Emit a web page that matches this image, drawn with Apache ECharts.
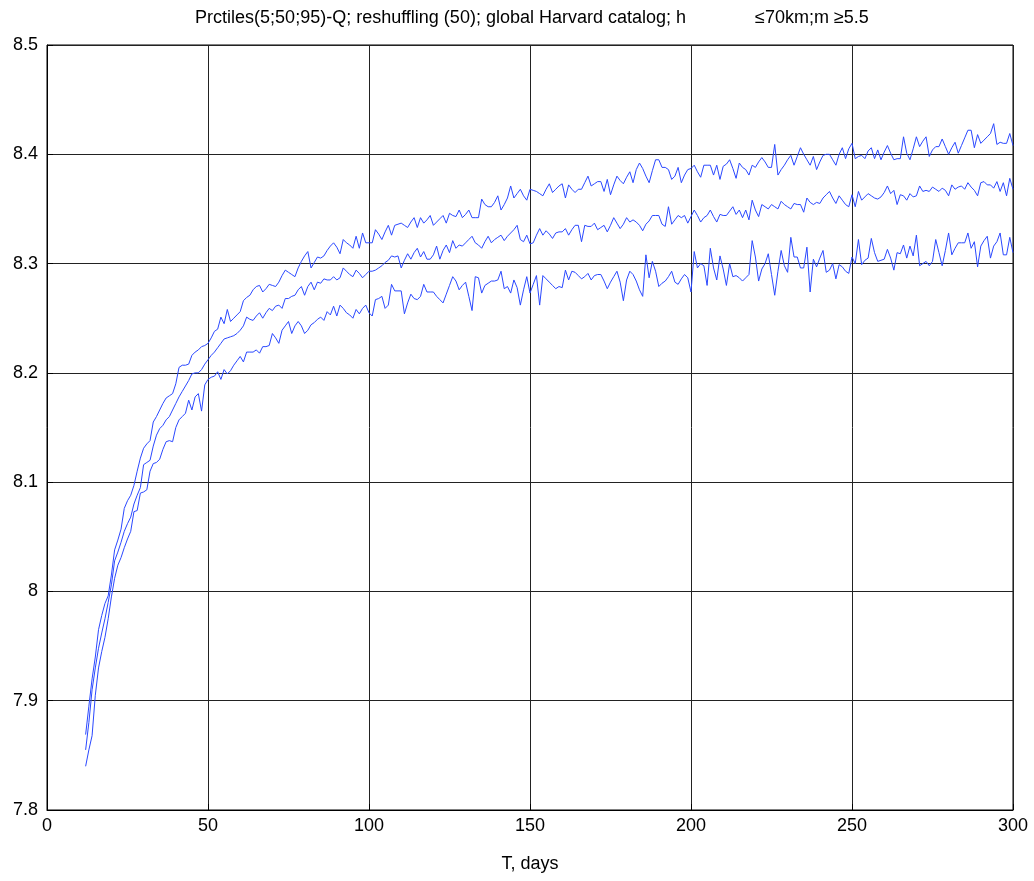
<!DOCTYPE html>
<html>
<head>
<meta charset="utf-8">
<script src="https://cdn.jsdelivr.net/npm/echarts@6/dist/echarts.min.js"></script>
<style>html,body{margin:0;padding:0;background:#fff}#c{width:1034px;height:881px}</style>
</head>
<body>
<div id="c"></div>
<script>
const titleLeft = "Prctiles(5;50;95)-Q; reshuffling (50); global Harvard catalog; h";
const titleRight = "\u226470km;m \u22655.5";
const xName = "T, days";
const startDay = 12;
const xTicks = [0, 50, 100, 150, 200, 250, 300];
const yTicks = [7.8, 7.9, 8.0, 8.1, 8.2, 8.3, 8.4, 8.5];

// 95th percentile, days 12..300
const p95 = [
7.869,7.895,7.920,7.940,7.965,7.978,7.989,7.996,8.015,8.038,
8.047,8.057,8.076,8.083,8.088,8.097,8.110,8.122,8.131,8.135,
8.138,8.155,8.160,8.166,8.172,8.177,8.179,8.181,8.190,8.205,
8.207,8.207,8.208,8.216,8.219,8.221,8.224,8.225,8.227,8.232,
8.238,8.240,8.251,8.245,8.258,8.247,8.250,8.253,8.256,8.266,
8.269,8.271,8.276,8.279,8.280,8.274,8.277,8.281,8.280,8.279,
8.283,8.289,8.294,8.292,8.290,8.288,8.296,8.302,8.307,8.311,
8.296,8.301,8.306,8.305,8.307,8.312,8.316,8.319,8.315,8.309,
8.322,8.319,8.317,8.314,8.325,8.314,8.328,8.319,8.319,8.319,
8.331,8.327,8.322,8.329,8.335,8.326,8.335,8.336,8.337,8.335,
8.333,8.338,8.342,8.333,8.342,8.337,8.340,8.344,8.335,8.338,
8.341,8.344,8.337,8.346,8.344,8.343,8.349,8.342,8.345,8.349,
8.342,8.342,8.342,8.359,8.354,8.352,8.352,8.356,8.362,8.349,
8.354,8.360,8.371,8.360,8.364,8.368,8.362,8.358,8.368,8.367,
8.366,8.364,8.362,8.368,8.373,8.365,8.368,8.371,8.373,8.360,
8.372,8.368,8.365,8.368,8.368,8.374,8.380,8.371,8.373,8.375,
8.375,8.366,8.377,8.363,8.372,8.380,8.376,8.373,8.379,8.384,
8.374,8.386,8.392,8.387,8.380,8.374,8.385,8.395,8.395,8.388,
8.388,8.386,8.377,8.380,8.388,8.374,8.381,8.386,8.387,8.390,
8.384,8.379,8.390,8.390,8.390,8.381,8.390,8.377,8.389,8.391,
8.395,8.387,8.378,8.392,8.388,8.386,8.381,8.390,8.388,8.393,
8.397,8.393,8.388,8.388,8.409,8.381,8.386,8.390,8.395,8.399,
8.390,8.398,8.406,8.400,8.395,8.390,8.398,8.386,8.393,8.399,
8.400,8.400,8.395,8.390,8.400,8.406,8.396,8.405,8.410,8.396,
8.398,8.399,8.396,8.403,8.406,8.396,8.404,8.395,8.402,8.408,
8.401,8.395,8.396,8.396,8.416,8.401,8.395,8.405,8.416,8.407,
8.412,8.416,8.398,8.404,8.407,8.407,8.414,8.407,8.400,8.406,
8.411,8.401,8.408,8.415,8.422,8.422,8.406,8.418,8.410,8.413,
8.416,8.419,8.428,8.409,8.411,8.410,8.410,8.419,8.408
];

// 50th percentile, days 12..300
const p50 = [
7.855,7.880,7.910,7.930,7.948,7.962,7.975,7.990,8.006,8.028,
8.036,8.045,8.055,8.062,8.068,8.080,8.088,8.095,8.116,8.118,
8.120,8.133,8.143,8.149,8.152,8.157,8.160,8.166,8.172,8.178,
8.183,8.188,8.193,8.199,8.200,8.200,8.203,8.208,8.212,8.216,
8.219,8.223,8.227,8.231,8.232,8.233,8.234,8.236,8.239,8.243,
8.251,8.249,8.248,8.252,8.255,8.250,8.255,8.259,8.257,8.261,
8.262,8.259,8.268,8.268,8.270,8.271,8.276,8.279,8.271,8.279,
8.283,8.276,8.283,8.282,8.286,8.285,8.285,8.288,8.285,8.287,
8.296,8.293,8.290,8.288,8.294,8.291,8.287,8.290,8.293,8.293,
8.294,8.296,8.298,8.301,8.303,8.307,8.306,8.307,8.296,8.303,
8.309,8.304,8.310,8.314,8.306,8.311,8.304,8.304,8.308,8.316,
8.304,8.312,8.317,8.310,8.321,8.314,8.317,8.316,8.319,8.322,
8.325,8.319,8.317,8.314,8.320,8.325,8.319,8.322,8.324,8.326,
8.321,8.325,8.328,8.331,8.335,8.322,8.320,8.326,8.318,8.319,
8.326,8.332,8.326,8.330,8.327,8.323,8.328,8.329,8.329,8.332,
8.326,8.331,8.335,8.335,8.320,8.335,8.334,8.334,8.337,8.331,
8.333,8.335,8.329,8.335,8.342,8.337,8.332,8.336,8.342,8.338,
8.340,8.338,8.335,8.330,8.336,8.339,8.344,8.344,8.344,8.336,
8.334,8.352,8.336,8.340,8.344,8.342,8.344,8.337,8.343,8.349,
8.344,8.338,8.342,8.344,8.349,8.343,8.338,8.345,8.344,8.344,
8.348,8.352,8.345,8.349,8.342,8.349,8.340,8.358,8.349,8.343,
8.354,8.352,8.350,8.354,8.352,8.350,8.357,8.354,8.352,8.350,
8.355,8.354,8.354,8.347,8.360,8.356,8.354,8.356,8.355,8.360,
8.363,8.366,8.360,8.355,8.362,8.358,8.354,8.352,8.363,8.352,
8.366,8.358,8.361,8.364,8.362,8.360,8.359,8.361,8.365,8.371,
8.364,8.367,8.354,8.363,8.362,8.358,8.364,8.361,8.362,8.371,
8.366,8.367,8.366,8.370,8.368,8.366,8.369,8.367,8.362,8.372,
8.368,8.370,8.371,8.368,8.374,8.370,8.367,8.362,8.374,8.375,
8.372,8.372,8.369,8.375,8.366,8.374,8.362,8.378,8.368
];

// 5th percentile, days 12..300
const p05 = [
7.840,7.855,7.868,7.905,7.930,7.945,7.958,7.975,7.995,8.012,
8.024,8.031,8.040,8.048,8.055,8.073,8.074,8.090,8.091,8.093,
8.110,8.117,8.118,8.121,8.130,8.137,8.138,8.137,8.150,8.157,
8.160,8.163,8.175,8.166,8.178,8.181,8.165,8.189,8.194,8.196,
8.197,8.201,8.194,8.203,8.199,8.202,8.207,8.211,8.215,8.210,
8.219,8.219,8.219,8.221,8.218,8.224,8.224,8.225,8.236,8.232,
8.227,8.239,8.243,8.247,8.236,8.243,8.247,8.243,8.236,8.239,
8.244,8.246,8.249,8.251,8.248,8.256,8.253,8.261,8.252,8.262,
8.259,8.255,8.253,8.250,8.258,8.254,8.259,8.262,8.255,8.252,
8.267,8.268,8.270,8.259,8.262,8.281,8.275,8.275,8.275,8.254,
8.264,8.272,8.268,8.267,8.270,8.281,8.274,8.274,8.274,8.270,
8.267,8.264,8.272,8.280,8.288,8.284,8.276,8.280,8.283,8.270,
8.257,8.288,8.287,8.273,8.280,8.282,8.284,8.284,8.285,8.293,
8.277,8.279,8.273,8.285,8.278,8.262,8.276,8.288,8.273,8.281,
8.289,8.262,8.289,8.286,8.283,8.280,8.277,8.279,8.278,8.294,
8.285,8.293,8.292,8.289,8.286,8.288,8.291,8.285,8.289,8.290,
8.290,8.284,8.277,8.283,8.288,8.293,8.283,8.266,8.285,8.293,
8.290,8.284,8.276,8.270,8.308,8.287,8.302,8.293,8.279,8.282,
8.284,8.288,8.293,8.283,8.281,8.286,8.290,8.287,8.274,8.311,
8.296,8.300,8.298,8.280,8.314,8.296,8.285,8.307,8.295,8.280,
8.300,8.288,8.289,8.287,8.284,8.287,8.290,8.321,8.306,8.284,
8.295,8.300,8.309,8.290,8.271,8.293,8.312,8.298,8.292,8.324,
8.306,8.306,8.296,8.296,8.315,8.274,8.304,8.297,8.305,8.312,
8.292,8.294,8.300,8.286,8.299,8.297,8.293,8.291,8.306,8.300,
8.322,8.299,8.303,8.305,8.323,8.310,8.302,8.303,8.304,8.313,
8.305,8.294,8.310,8.309,8.317,8.305,8.316,8.307,8.326,8.298,
8.300,8.302,8.298,8.302,8.322,8.310,8.298,8.312,8.328,8.308,
8.314,8.319,8.319,8.319,8.328,8.314,8.320,8.297,8.316,8.321,
8.325,8.305,8.316,8.320,8.328,8.308,8.308,8.324,8.310
];

const toPairs = arr => arr.map((v, i) => [startDay + i, v]);
const lineColor = '#2a48ff';
const font = "'Liberation Sans', Arial, sans-serif";

const chart = echarts.init(document.getElementById('c'), null, {renderer: 'canvas'});
const mkSeries = (name, arr) => ({
  name, type: 'line', data: toPairs(arr), showSymbol: false, symbol: 'none',
  lineStyle: {color: lineColor, width: 1}, itemStyle: {color: lineColor},
  animation: false, silent: true
});
chart.setOption({
  backgroundColor: '#ffffff',
  animation: false,
  title: [
    {text: titleLeft, right: 343, top: 4, textStyle: {fontFamily: font, fontSize: 18, fontWeight: 'normal', color: '#000'}},
    {text: titleRight, left: 750, top: 4, textStyle: {fontFamily: font, fontSize: 18, fontWeight: 'normal', color: '#000'}}
  ],
  grid: {left: 47, right: 21, top: 45, bottom: 71, show: true, borderColor: '#000', borderWidth: 1, backgroundColor: '#fff'},
  xAxis: {
    type: 'value', min: xTicks[0], max: xTicks[xTicks.length - 1], interval: 50,
    name: xName, nameLocation: 'middle', nameGap: 45,
    nameTextStyle: {fontFamily: font, fontSize: 18, color: '#000'},
    axisLine: {show: true, lineStyle: {color: '#000', width: 1}},
    axisTick: {show: true, inside: true, length: 6, lineStyle: {color: '#000'}},
    axisLabel: {fontFamily: font, fontSize: 18, color: '#000', margin: 7},
    splitLine: {show: true, lineStyle: {color: '#222', width: 1}}
  },
  yAxis: {
    type: 'value', min: yTicks[0], max: yTicks[yTicks.length - 1], interval: 0.1,
    axisLine: {show: true, lineStyle: {color: '#000', width: 1}},
    axisTick: {show: true, inside: true, length: 6, lineStyle: {color: '#000'}},
    axisLabel: {fontFamily: font, fontSize: 18, color: '#000', margin: 9,
      formatter: v => String(+(+v).toFixed(1))},
    splitLine: {show: true, lineStyle: {color: '#222', width: 1}}
  },
  series: [mkSeries('p95', p95), mkSeries('p50', p50), mkSeries('p05', p05)]
});
</script>
</body>
</html>
